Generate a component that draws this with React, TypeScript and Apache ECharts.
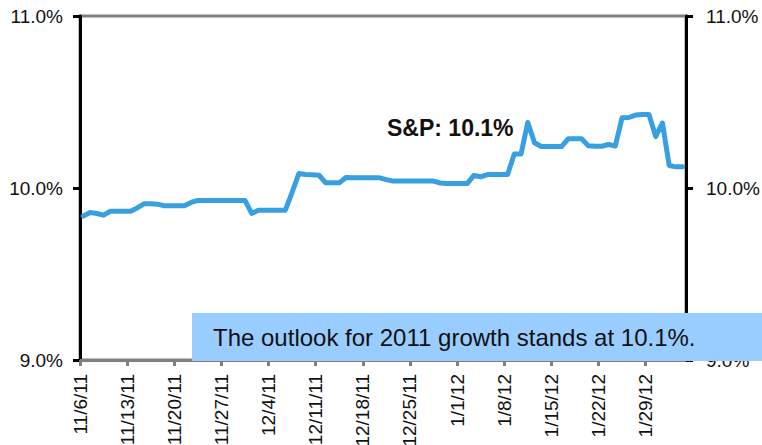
import React, { useEffect, useRef } from "react";
import * as echarts from "echarts";

// Daily S&P 2011 growth outlook (%), 11/6/11 .. 2/3/12
const values: number[] = [
  9.837, 9.858, 9.852, 9.842, 9.865, 9.865, 9.865, 9.865, 9.884, 9.908,
  9.908, 9.906, 9.897, 9.897, 9.897, 9.897, 9.916, 9.928, 9.928, 9.928,
  9.928, 9.928, 9.928, 9.928, 9.928, 9.852, 9.871, 9.871, 9.871, 9.871,
  9.871, 9.975, 10.084, 10.078, 10.077, 10.074, 10.03, 10.03, 10.03, 10.061,
  10.059, 10.059, 10.059, 10.059, 10.059, 10.049, 10.04, 10.04, 10.04, 10.04,
  10.04, 10.04, 10.04, 10.029, 10.026, 10.026, 10.026, 10.026, 10.073, 10.065,
  10.078, 10.078, 10.078, 10.078, 10.198, 10.198, 10.381, 10.263, 10.241, 10.241,
  10.241, 10.241, 10.286, 10.286, 10.286, 10.245, 10.243, 10.243, 10.253, 10.244,
  10.408, 10.41, 10.424, 10.427, 10.427, 10.299, 10.378, 10.131, 10.123, 10.123,
];

const tickDays: number[] = [0, 7, 14, 21, 28, 35, 42, 49, 56, 63, 70, 77, 84];
const tickLabels: string[] = [
  "11/6/11", "11/13/11", "11/20/11", "11/27/11", "12/4/11", "12/11/11",
  "12/18/11", "12/25/11", "1/1/12", "1/8/12", "1/15/12", "1/22/12", "1/29/12",
];
const yTicks: number[] = [9, 10, 11];

const annotation = "S&P: 10.1%";
const boxText = "The outlook for 2011 growth stands at 10.1%.";

const FONT = "'Liberation Sans', Arial, sans-serif";

export default function App() {
  const ref = useRef<HTMLDivElement>(null);
  useEffect(() => {
    if (!ref.current) return;
    const chart = echarts.init(ref.current, null, { renderer: "svg" });
    const yAxisBase = {
      type: "value" as const,
      min: 9,
      max: 11,
      interval: 1,
      splitLine: { show: false },
      axisLine: { show: true, lineStyle: { color: "#000", width: 3 } },
      axisTick: { show: true, length: 7, lineStyle: { color: "#000", width: 3 } },
      axisLabel: {
        color: "#111",
        fontSize: 19,
        fontFamily: FONT,
        formatter: (v: number) => v.toFixed(1) + "%",
        customValues: yTicks,
      },
    };
    chart.setOption({
      animation: false,
      grid: {
        left: 80,
        right: 76,
        top: 16,
        bottom: 85,
        show: true,
        borderColor: "#808080",
        borderWidth: 3,
        outerBoundsMode: "none",
      },
      xAxis: {
        type: "value",
        min: 0,
        max: 90,
        interval: 7,
        splitLine: { show: false },
        axisLine: { show: true, lineStyle: { color: "#808080", width: 3 } },
        axisTick: {
          show: true,
          length: 6,
          lineStyle: { color: "#808080", width: 3 },
          customValues: tickDays,
        },
        axisLabel: {
          rotate: 90,
          margin: 14,
          color: "#111",
          fontSize: 19,
          fontFamily: FONT,
          customValues: tickDays,
          formatter: (v: number) => {
            const i = tickDays.indexOf(Math.round(v));
            return i >= 0 ? tickLabels[i] : "";
          },
        },
      },
      yAxis: [
        { ...yAxisBase, position: "left", axisLabel: { ...yAxisBase.axisLabel, margin: 17 } },
        { ...yAxisBase, position: "right", axisLabel: { ...yAxisBase.axisLabel, margin: 20 } },
      ],
      series: [
        {
          type: "line",
          data: values.map((v, i) => [i + 0.5, v]),
          showSymbol: false,
          symbol: "none",
          lineStyle: { color: "#389fe0", width: 5, join: "round", cap: "round" },
          z: 5,
        },
      ],
      graphic: [
        {
          type: "text",
          x: 387,
          y: 128,
          z: 50,
          style: {
            text: annotation,
            fill: "#111",
            font: `bold 23px ${FONT}`,
            verticalAlign: "middle",
            align: "left",
          },
        },
        {
          type: "rect",
          z: 100,
          shape: { x: 192, y: 313, width: 570, height: 48 },
          style: { fill: "#99ccff" },
        },
        {
          type: "text",
          x: 213,
          y: 337,
          z: 101,
          style: {
            text: boxText,
            fill: "#111",
            font: `24px ${FONT}`,
            verticalAlign: "middle",
            align: "left",
          },
        },
      ],
    });
    return () => chart.dispose();
  }, []);
  return (
    <div
      ref={ref}
      style={{ position: "fixed", left: 0, top: 0, width: 762, height: 445, background: "#fff" }}
    />
  );
}
